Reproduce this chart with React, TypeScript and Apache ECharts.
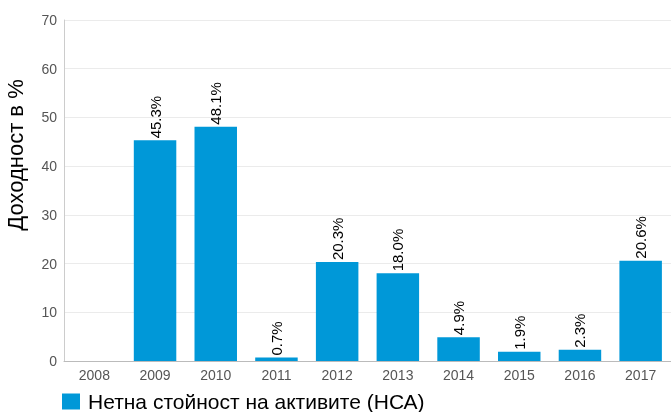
import React, { useEffect, useRef } from "react";
import * as echarts from "echarts";

const categories = ["2008", "2009", "2010", "2011", "2012", "2013", "2014", "2015", "2016", "2017"];
const values: (number | null)[] = [null, 45.3, 48.1, 0.7, 20.3, 18.0, 4.9, 1.9, 2.3, 20.6];
const seriesName = "Нетна стойност на активите (НСА)";
const yAxisName = "Доходност в %";

export default function App() {
  const ref = useRef<HTMLDivElement>(null);
  useEffect(() => {
    const chart = echarts.init(ref.current!, null, { renderer: "svg" });
    chart.setOption({
      animation: false,
      textStyle: { fontFamily: "Liberation Sans, Arial, sans-serif" },
      grid: { left: 64, top: 20, width: 609, height: 341, containLabel: false },
      graphic: [
        {
          type: "text",
          x: 15,
          y: 155,
          rotation: Math.PI / 2,
          style: {
            text: yAxisName,
            fontSize: 22,
            fill: "#000",
            textAlign: "center",
            textVerticalAlign: "middle",
            fontFamily: "Liberation Sans, Arial, sans-serif",
          },
        },
      ],
      legend: {
        left: 62,
        top: 391,
        padding: 0,
        itemWidth: 18,
        itemHeight: 16,
        itemGap: 10,
        icon: "rect",
        textStyle: { fontSize: 21, color: "#000", padding: [0, 0, 0, 3] },
        data: [seriesName],
      },
      xAxis: {
        type: "category",
        data: categories,
        axisLine: { lineStyle: { color: "#bbb" } },
        axisTick: { show: false },
        axisLabel: { color: "#555", fontSize: 14, margin: 7 },
      },
      yAxis: {
        type: "value",
        min: 0,
        max: 70,
        interval: 10,
        axisLine: { show: true, lineStyle: { color: "#ccc" } },
        axisTick: { show: false },
        axisLabel: { color: "#555", fontSize: 14, margin: 7 },
        splitLine: { lineStyle: { color: "#ebebeb" } },
      },
      series: [
        {
          name: seriesName,
          type: "bar",
          data: values,
          barCategoryGap: "30%",
          itemStyle: { color: "#0098d8" },
          label: {
            show: true,
            position: "top",
            rotate: 90,
            align: "left",
            verticalAlign: "middle",
            distance: 2,
            fontSize: 15,
            color: "#000",
            formatter: (p: any) => p.value.toFixed(1) + "%",
          },
        },
      ],
    });
    return () => chart.dispose();
  }, []);
  return (
    <div
      ref={ref}
      style={{ position: "fixed", left: 0, top: 0, width: 671, height: 412, overflow: "hidden" }}
    />
  );
}
